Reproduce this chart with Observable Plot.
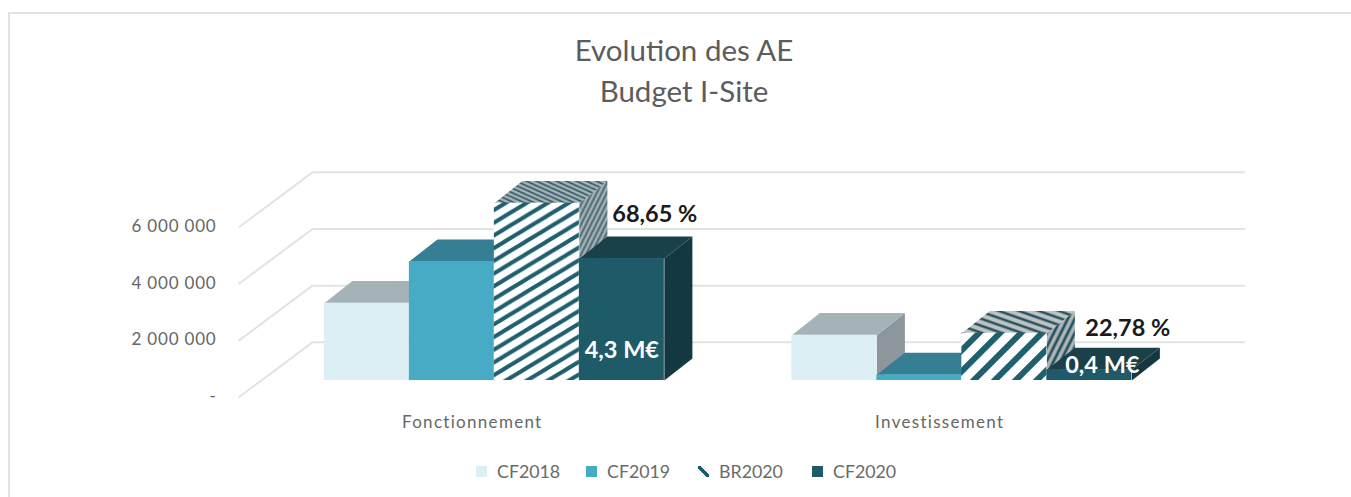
<!DOCTYPE html>
<html lang="fr">
<head>
<meta charset="utf-8">
<script src="https://cdn.jsdelivr.net/npm/d3@7"></script>
<script src="https://cdn.jsdelivr.net/npm/@observablehq/plot@0.6"></script>
<style>
  html, body { margin: 0; background: #fff; }
  #page { position: relative; width: 1351px; height: 497px; overflow: hidden; font-family: Lato, "Open Sans", sans-serif; }
  #frame { position: absolute; left: 8px; top: 12px; right: -4px; bottom: -4px; border: 2px solid #e2e2e2; pointer-events: none; }
  #title { box-sizing: border-box; width: 1351px; height: 115px; padding: 29px 0 0 17px; text-align: center; color: #5c5c5c; font-size: 29.5px; line-height: 41px; }
  #chart svg { display: block; }
  #chart .tick-text text { letter-spacing: 0.8px; }
  #chart .group-text text { letter-spacing: 1.3px; }
  #legend { position: absolute; left: 0; top: 458px; height: 26px; width: 1351px; color: #6a6a6a; font-size: 17.8px; }
  #legend .item { position: absolute; top: 0; display: flex; align-items: center; height: 26px; white-space: nowrap; }
  #legend .sw { display: inline-block; width: 11px; height: 11px; margin-right: 10px; }
</style>
</head>
<body>
<div id="page">
  <div id="frame"></div>
  <div id="title"><div>Evolution des AE</div><div>Budget I-Site</div></div>
  <div id="chart"></div>
  <div id="legend"></div>
</div>
<script>
// ---- data
const groups = ["Fonctionnement", "Investissement"];
const series = ["CF2018", "CF2019", "BR2020", "CF2020"];
const cf2018 = [2730000, 1600000];
const cf2019 = [4200000, 200000];
const br2020 = [6260000, 1670000];
const cf2020 = [4300000, 380000];
const seriesValues = [cf2018, cf2019, br2020, cf2020];
const yTicks = [0, 2000000, 4000000, 6000000];
const shareLabels = ["68,65 %", "22,78 %"];
const amountLabels = ["4,3 M€", "0,4 M€"];

// ---- faces per series / group (group-specific stripe patterns for the hatch)
const frontPaint = [["#dceff5", "#dceff5"], ["#48abc6", "#48abc6"], ["url(#front0)", "url(#front1)"], ["#1f5a69", "#1f5a69"]];
const topPaint   = [["#a5b3b9", "#a5b3b9"], ["#367e94", "#367e94"], ["url(#top0)", "url(#top1)"], ["#1a404a", "#1a404a"]];
const sidePaint  = [["#8b979c", "#8b979c"], ["#2f6c7f", "#2f6c7f"], ["url(#side0)", "url(#side1)"], ["#143841", "#143841"]];

// ---- 3D projection, expressed in data units of the two scales
const groupStep = 5.5, groupPad = 0.75;     // one unit of x = one bar
const floorX = 0.26, floorY = 600000;       // bar plane vs. front edge of the floor
const barDepthX = 0.33, barDepthY = 780000; // depth of a bar
const wallX = 0.87, wallY = 1947000;        // floor front edge to back wall
const domainX = [0, 11];
const wallEnd = 11.84;

const bars = [];
groups.forEach((g, gi) => series.forEach((s, si) => {
  const x1 = gi * groupStep + groupPad + floorX + si;
  bars.push({ group: g, series: s, gi, si, x1, x2: x1 + 1, y1: floorY, y2: floorY + seriesValues[si][gi],
              paint: frontPaint[si][gi], top: topPaint[si][gi], side: sidePaint[si][gi] });
}));

const faces = bars.flatMap((b) => {
  const side = `${b.group}-${b.series}-side`, top = `${b.group}-${b.series}-top`;
  const X = b.x2 + barDepthX, Y = b.y2 + barDepthY;
  return [
    { id: side, paint: b.side, x: b.x2, y: b.y1 },
    { id: side, paint: b.side, x: X, y: b.y1 + barDepthY },
    { id: side, paint: b.side, x: X, y: Y },
    { id: side, paint: b.side, x: b.x2, y: b.y2 },
    { id: top, paint: b.top, x: b.x1, y: b.y2 },
    { id: top, paint: b.top, x: b.x2, y: b.y2 },
    { id: top, paint: b.top, x: X, y: Y },
    { id: top, paint: b.top, x: b.x1 + barDepthX, y: Y }
  ];
});

const barOf = (gi, si) => bars.find((b) => b.gi === gi && b.si === si);
const boldLabel = (gi, text, fill, dx, dy, si) => Plot.text([barOf(gi, si)], {
  x: (b) => (b.x1 + b.x2) / 2, y: (b) => b.y2, text: () => text, fill,
  fontWeight: 700, fontSize: 23.5, dx, dy
});

const plot = Plot.plot({
  width: 1351, height: 335,
  marginLeft: 238, marginRight: 178, marginTop: 40, marginBottom: 25,
  x: { domain: domainX, axis: null },
  y: { domain: [0, 6000000], range: [282, 112] },
  color: { type: "identity" },
  style: { fontFamily: "Lato, 'Open Sans', sans-serif", fontSize: "17px", background: "transparent", overflow: "visible" },
  marks: [
    Plot.link(yTicks, { x1: () => 0, x2: () => wallX, y1: (d) => d, y2: (d) => d + wallY, stroke: "#e3e3e3", strokeWidth: 2 }),
    Plot.link(yTicks, { x1: () => wallX, x2: () => wallEnd, y1: (d) => d + wallY, y2: (d) => d + wallY, stroke: "#e3e3e3", strokeWidth: 2 }),
    Plot.line(faces, { x: "x", y: "y", z: "id", fill: "paint", stroke: "none" }),
    Plot.rect(bars, { x1: "x1", x2: "x2", y1: "y1", y2: "y2", fill: "paint" }),
    Plot.axisY({ ticks: yTicks, tickSize: 0, tickPadding: 22, label: null, fill: "#666666", dy: -1, fontSize: 17, className: "tick-text",
                 tickFormat: (d) => d === 0 ? "-" : d3.format(",")(d).replace(/,/g, " ") }),
    Plot.text(groups, { x: (g, i) => i * groupStep + groupStep / 2, y: () => 0, text: (g) => g, dy: 25, fill: "#666666", fontSize: 17, className: "group-text" }),
    boldLabel(0, shareLabels[0], "#1a1a1a", 33, -44, 3),
    boldLabel(1, shareLabels[1], "#1a1a1a", 38.5, -41, 3),
    boldLabel(0, amountLabels[0], "#ffffff", 0, 92, 3),
    boldLabel(1, amountLabels[1], "#ffffff", 13, -4, 3)
  ]
});

// stripe patterns referenced by the hatched bar
function pattern(id, w, h, base, stroke, sw, up) {
  const lines = [-w, 0, w].map((o) => up
    ? `<line x1="${o - w}" y1="${2 * h}" x2="${o + 2 * w}" y2="${-h}" stroke="${stroke}" stroke-width="${sw}"/>`
    : `<line x1="${o - w}" y1="${-h}" x2="${o + 2 * w}" y2="${2 * h}" stroke="${stroke}" stroke-width="${sw}"/>`
  ).join("");
  return `<pattern id="${id}" patternUnits="userSpaceOnUse" width="${w}" height="${h}"><rect width="${w}" height="${h}" fill="${base}"/>${lines}</pattern>`;
}
const defs = document.createElementNS("http://www.w3.org/2000/svg", "defs");
defs.innerHTML = [
  pattern("front0", 21, 12.7, "#ffffff", "#1f5f6e", 4, true),
  pattern("front1", 21, 21, "#ffffff", "#1f5f6e", 6, true),
  pattern("top0", 10, 4.5, "#a9b3b6", "#2f5c68", 1.7, false),
  pattern("top1", 20, 7, "#c0c2c3", "#1c4b57", 2.4, false),
  pattern("side0", 5, 10, "#a9b1b4", "#3c6270", 1.8, true),
  pattern("side1", 7, 14, "#b2b5b6", "#1f4f5c", 2.6, true)
].join("");
plot.insertBefore(defs, plot.firstChild);
document.getElementById("chart").append(plot);

// legend
const legendLeft = [476, 586, 698, 812];
const legendSwatch = ["#dceff5", "#48abc6",
  "linear-gradient(45deg, transparent 38%, #1f5a69 38%, #1f5a69 62%, transparent 62%)", "#1f5a69"];
document.getElementById("legend").innerHTML = series.map((s, i) =>
  `<span class="item" style="left:${legendLeft[i]}px"><span class="sw" style="background:${legendSwatch[i]}"></span>${s}</span>`
).join("");
</script>
</body>
</html>
